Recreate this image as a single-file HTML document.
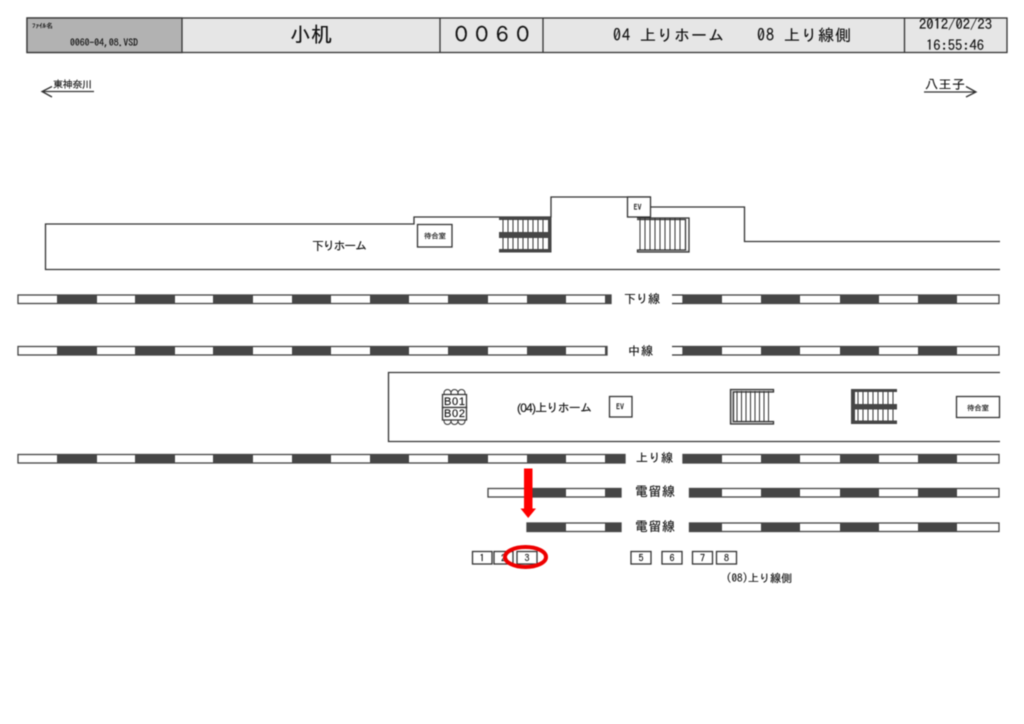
<!DOCTYPE html>
<html lang="ja"><head><meta charset="utf-8"><style>
html,body{margin:0;padding:0;background:#fff}
svg{display:block;filter:blur(0.4px)}
text{font-family:"IPAGothic","Noto Sans CJK JP",sans-serif;fill:#111;stroke:#111;stroke-width:.15}
.l{fill:none;stroke:#333;stroke-width:1.3}
.tr{fill:#fff;stroke:#444;stroke-width:1.3}
.d{fill:#464646}
.b{fill:#fff;stroke:#333;stroke-width:1.3}
.v{stroke:#333;stroke-width:1}
</style></head><body>
<svg width="1024" height="724" viewBox="0 0 1024 724" xmlns="http://www.w3.org/2000/svg">
<rect width="1024" height="724" fill="#fff"/>

<!-- Header -->
<rect x="27" y="18" width="980" height="34.500" fill="#e6e6e6" stroke="#333" stroke-width="1.300"/>
<rect x="27" y="18" width="155" height="34.500" fill="#b2b2b2" stroke="#333" stroke-width="1.300"/>
<path class="l" d="M440 18V52.500M543 18V52.500M904.500 18V52.500"/>
<text x="32" y="28" font-size="6.500" textLength="21" lengthAdjust="spacingAndGlyphs">ﾌｧｲﾙ名</text>
<text x="70" y="46" font-size="10" textLength="68" lengthAdjust="spacingAndGlyphs">0060-04,08.VSD</text>
<text x="290" y="42" font-size="21" textLength="42">小机</text>
<text x="451" y="42" font-size="21" textLength="82" lengthAdjust="spacingAndGlyphs">００６０</text>
<text x="613" y="41" font-size="16" textLength="111">04 上りホーム</text>
<text x="757" y="41" font-size="16" textLength="94">08 上り線側</text>
<text x="919" y="29" font-size="14" textLength="73" lengthAdjust="spacingAndGlyphs">2012/02/23</text>
<text x="926" y="50" font-size="14" textLength="58" lengthAdjust="spacingAndGlyphs">16:55:46</text>

<!-- Direction arrows -->
<text x="53" y="88" font-size="10" textLength="39">東神奈川</text>
<path class="l" d="M94 91.500H42M52 86.500L42 91.500L52 97"/>
<text x="925" y="89" font-size="13" textLength="40">八王子</text>
<path class="l" d="M924 92H976M966 86.500L976 92L966 97"/>

<!-- Upper platform -->
<path class="l" d="M1000 269.500H45.500V224H414V217H551V197H650V207H744.500V241.500H1000"/>
<text x="312" y="250" font-size="12" textLength="55">下りホーム</text>
<rect class="b" x="417.500" y="224.500" width="34.500" height="22.500"/>
<text x="424" y="238.500" font-size="7.500" textLength="22">待合室</text>

<!-- Upper dark stairs -->
<path class="v" d="M503 219V250M508 219V250M513 219V250M518 219V250M523 219V250M528 219V250M533 219V250M538 219V250M543 219V250"/>
<rect class="d" x="499" y="217" width="52" height="3"/>
<rect class="d" x="499" y="232" width="52" height="6"/>
<rect class="d" x="499" y="249" width="52" height="3.500"/>
<rect class="d" x="548" y="217" width="3.500" height="35.500"/>

<!-- Upper light stairs -->
<path fill="#ccc" d="M637 250H689V252H637Z"/>
<path class="v" d="M640 218V250M645 218V250M650 218V250M655 218V250M660 218V250M665 218V250M670 218V250M675 218V250M680 218V250"/>
<path class="l" d="M637 218H689V252H637.500V250H685.500V219.500H637"/>
<rect class="b" x="627.500" y="197" width="23" height="20"/>
<text x="633.500" y="210" font-size="8">EV</text>

<!-- Track 1: 下り線 -->
<rect class="tr" x="18" y="295" width="593" height="8.500"/>
<path class="d" d="M57 294.500h40v9.500h-40zM135 294.500h40v9.500h-40zM213 294.500h40v9.500h-40zM292 294.500h39v9.500h-39zM370 294.500h39v9.500h-39zM448 294.500h40v9.500h-40zM527 294.500h39v9.500h-39zM605 294.500h6.500v9.500h-6.500z"/>
<rect class="tr" x="683" y="295" width="316" height="8.500"/>
<path class="l" d="M672 295H683M672 303.500H683"/>
<path class="d" d="M683 294.500h39v9.500h-39zM761 294.500h39v9.500h-39zM840 294.500h39v9.500h-39zM918 294.500h39v9.500h-39z"/>
<text x="624" y="303" font-size="12" textLength="36">下り線</text>

<!-- Track 2: 中線 -->
<rect class="tr" x="18" y="346.500" width="589" height="8.500"/>
<path class="d" d="M57 346h40v9.500h-40zM135 346h40v9.500h-40zM213 346h40v9.500h-40zM292 346h39v9.500h-39zM370 346h39v9.500h-39zM448 346h40v9.500h-40zM527 346h39v9.500h-39zM605 346h2.500v9.500h-2.500z"/>
<rect class="tr" x="683" y="346.500" width="316" height="8.500"/>
<path class="l" d="M672 346.500H683M672 355H683"/>
<path class="d" d="M683 346h39v9.500h-39zM761 346h39v9.500h-39zM840 346h39v9.500h-39zM918 346h39v9.500h-39z"/>
<text x="628" y="355" font-size="12" textLength="25">中線</text>

<!-- Lower platform -->
<path class="l" d="M1000 372.500H388.500V441.500H1000"/>
<g fill="#fff" stroke="#333" stroke-width="1">
<circle cx="447.500" cy="393" r="3.500"/><circle cx="454.500" cy="393" r="3.500"/><circle cx="461.500" cy="393" r="3.500"/>
<circle cx="447.500" cy="421" r="3.500"/><circle cx="454.500" cy="421" r="3.500"/><circle cx="461.500" cy="421" r="3.500"/>
</g>
<rect class="b" x="442.500" y="394.500" width="24" height="13"/>
<rect class="b" x="442.500" y="407.500" width="24" height="12.500"/>
<text x="444" y="405" font-size="11" style="font-family:'Liberation Sans',sans-serif" textLength="21">B01</text>
<text x="444" y="417" font-size="11" style="font-family:'Liberation Sans',sans-serif" textLength="21">B02</text>
<text x="517" y="412" font-size="12" textLength="75" style="font-family:'Liberation Sans','IPAGothic',sans-serif">(04)上りホーム</text>
<rect class="b" x="609.500" y="396.500" width="22.500" height="20.500"/>
<text x="616" y="409.500" font-size="8">EV</text>

<!-- Lower light stairs -->
<path fill="#ccc" d="M730 390H773V392H733V421.500H773V424H730Z"/>
<path class="v" d="M737 391V422M741.500 391V422M746 391V422M750.500 391V422M755 391V422M759.500 391V422M764 391V422M768.500 391V422"/>
<path class="l" d="M773.500 389.500H730.500V424H773.500V421.500H733.500V392H773.500Z"/>

<!-- Lower dark stairs -->
<path class="v" d="M858 391V421M863 391V421M868 391V421M873 391V421M878 391V421M883 391V421M888 391V421M893 391V421"/>
<rect class="d" x="851" y="389" width="46" height="3"/>
<rect class="d" x="851" y="404" width="46" height="5.500"/>
<rect class="d" x="851" y="420.500" width="46" height="3.500"/>
<rect class="d" x="851" y="389" width="4" height="35"/>

<rect class="b" x="956.500" y="396.500" width="43" height="21"/>
<text x="967" y="410.500" font-size="7.500" textLength="22">待合室</text>

<!-- Track 3: 上り線 -->
<rect class="tr" x="18" y="454.500" width="607" height="8.500"/>
<path class="d" d="M57 454h40v9.500h-40zM135 454h40v9.500h-40zM213 454h40v9.500h-40zM292 454h39v9.500h-39zM370 454h39v9.500h-39zM448 454h40v9.500h-40zM527 454h39v9.500h-39zM605 454h20.500v9.500h-20.500z"/>
<rect class="tr" x="683" y="454.500" width="316" height="8.500"/>
<path class="d" d="M683 454h39v9.500h-39zM761 454h39v9.500h-39zM840 454h39v9.500h-39zM918 454h39v9.500h-39z"/>
<text x="636" y="462" font-size="12" textLength="37">上り線</text>

<!-- Track 4: 電留線 -->
<rect class="tr" x="488" y="488.500" width="133" height="8.500"/>
<path class="d" d="M532 488h34v9.500h-34zM605 488h16v9.500h-16z"/>
<rect class="tr" x="689.500" y="488.500" width="309.500" height="8.500"/>
<path class="d" d="M689.500 488h32.500v9.500h-32.500zM761 488h39v9.500h-39zM840 488h39v9.500h-39zM918 488h39v9.500h-39z"/>
<text x="635" y="496" font-size="13" textLength="40">電留線</text>

<!-- Track 5: 電留線 -->
<rect class="tr" x="527" y="523" width="94" height="8.500"/>
<path class="d" d="M527 522.500h39v9.500h-39zM605 522.500h16v9.500h-16z"/>
<rect class="tr" x="689.500" y="523" width="309.500" height="8.500"/>
<path class="d" d="M689.500 522.500h32.500v9.500h-32.500zM761 522.500h39v9.500h-39zM840 522.500h39v9.500h-39zM918 522.500h39v9.500h-39z"/>
<text x="635" y="531" font-size="13" textLength="40">電留線</text>

<!-- Numbered boxes -->
<rect class="b" x="472.500" y="551.500" width="19.500" height="12.500"/>
<rect class="b" x="494" y="551.500" width="19" height="12.500"/>
<rect class="b" x="517" y="551.500" width="20" height="12.500"/>
<rect class="b" x="631" y="551.500" width="20" height="12.500"/>
<rect class="b" x="662" y="551.500" width="20" height="12.500"/>
<rect class="b" x="692.500" y="551.500" width="20" height="12.500"/>
<rect class="b" x="716.500" y="551.500" width="20" height="12.500"/>
<g font-size="10">
<text x="479.500" y="561.500">1</text><text x="501" y="561.500">2</text><text x="524.500" y="561.500">3</text>
<text x="638.500" y="561.500">5</text><text x="669.500" y="561.500">6</text><text x="700" y="561.500">7</text><text x="724" y="561.500">8</text>
</g>
<text x="726" y="582" font-size="11" textLength="66">(08)上り線側</text>

<!-- Red markers -->
<ellipse cx="525.500" cy="557" rx="20.500" ry="10" fill="none" stroke="#ee0000" stroke-width="4"/>
<path fill="#ff0000" d="M524 468.500H532.500V508.500H536L528.200 518L520.500 508.500H524Z"/>
</svg>
</body></html>
